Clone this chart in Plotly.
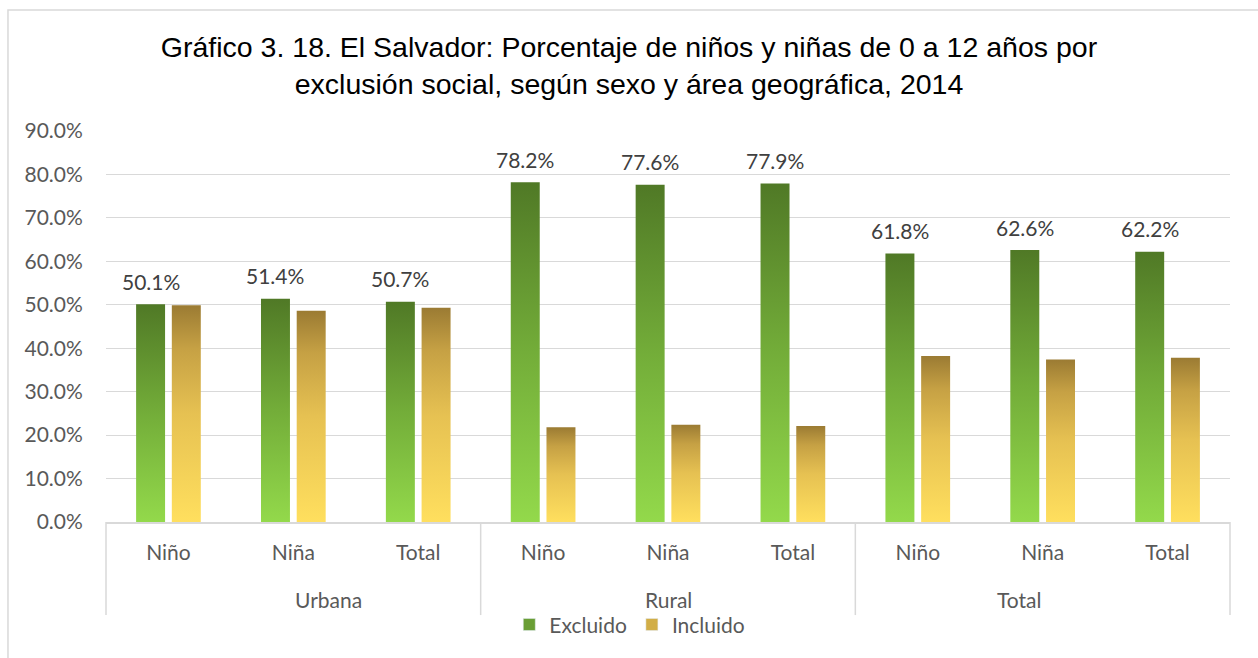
import plotly.graph_objects as go

# Chart data
areas = ["Urbana", "Rural", "Total"]
sexes = ["Niño", "Niña", "Total"]
excluido = [50.1, 51.4, 50.7, 78.2, 77.6, 77.9, 61.8, 62.6, 62.2]
incluido = [49.9, 48.6, 49.3, 21.8, 22.4, 22.1, 38.2, 37.4, 37.8]
y_ticks = [0, 10, 20, 30, 40, 50, 60, 70, 80, 90]

title_text = ("Gráfico 3. 18. El Salvador: Porcentaje de niños y niñas de 0 a 12 años por"
              "<br>exclusión social, según sexo y área geográfica, 2014")

# Styling
green_scale = [[0, "#93D94B"], [0.5, "#73AD39"], [1, "#507926"]]
gold_scale = [[0, "#FFDF5E"], [0.5, "#E6C152"], [0.8, "#C6A144"], [1, "#9B7B33"]]
green_legend = "#6A9E35"
gold_legend = "#D2AE47"
tick_font = dict(family="Lato", size=21, color="#595959")
grid_color = "#D9D9D9"

bar_w = 0.232
offset = 0.143

categories = [f"{s}" for _ in areas for s in sexes]
n = len(categories)

fig = go.Figure()


def add_bars(values, shift, scale):
    # each bar is a filled rectangle with a vertical gradient from its base to its top
    for i, v in enumerate(values):
        x0 = i + shift - bar_w / 2
        x1 = i + shift + bar_w / 2
        fig.add_trace(go.Scatter(
            x=[x0, x1, x1, x0, x0],
            y=[0, 0, v, v, 0],
            mode="lines",
            line=dict(width=0),
            fill="toself",
            fillgradient=dict(type="vertical", colorscale=scale),
            showlegend=False,
            hoverinfo="skip",
        ))


add_bars(excluido, -offset, green_scale)
add_bars(incluido, offset, gold_scale)

# legend entries
fig.add_trace(go.Bar(x=[None], y=[None], name="Excluido", marker_color=green_legend))
fig.add_trace(go.Bar(x=[None], y=[None], name="Incluido", marker_color=gold_legend))

# value labels on the Excluido bars
for i, v in enumerate(excluido):
    fig.add_annotation(x=i - offset, y=v, text=f"{v:.1f}%", showarrow=False,
                       xref="x", yref="y", yanchor="middle", yshift=23,
                       font=dict(family="Lato", size=21, color="#404040"))

# group labels under the category axis
for g, name in enumerate(areas):
    fig.add_annotation(x=(g + 0.5) / len(areas), y=-0.198, xref="paper", yref="paper",
                       text=name, showarrow=False, yanchor="middle", font=tick_font)

# group dividers
for g in range(len(areas) + 1):
    fig.add_shape(type="line", xref="paper", yref="paper",
                  x0=g / len(areas), x1=g / len(areas), y0=0, y1=-0.238,
                  line=dict(color=grid_color, width=1.5))

# outer chart border
fig.add_shape(type="rect", xref="paper", yref="paper",
              x0=-0.0872, x1=1.05, y0=1.3095, y1=-0.4,
              line=dict(color=grid_color, width=1.5), layer="below")

fig.update_layout(
    width=1258, height=658,
    margin=dict(l=106, r=28, t=131, b=136),
    paper_bgcolor="white", plot_bgcolor="white",
    title=dict(text=title_text, x=0.5, xref="container", xanchor="center",
               y=1 - 57 / 658, yref="container", yanchor="middle",
               font=dict(family="Liberation Sans, Arial", size=28.5, color="#000000")),
    showlegend=True,
    legend=dict(orientation="h", x=0.466, xanchor="center", y=-0.263, yanchor="middle",
                font=tick_font, traceorder="normal", itemwidth=30,
                bgcolor="rgba(0,0,0,0)"),
    xaxis=dict(range=[-0.5, n - 0.5], tickvals=list(range(n)), ticktext=categories,
               tickfont=tick_font, showgrid=False, zeroline=False,
               showline=True, linecolor=grid_color, linewidth=1.5,
               ticks="outside", ticklen=11, tickcolor="rgba(0,0,0,0)", fixedrange=True),
    yaxis=dict(range=[0, 90], tickvals=y_ticks,
               ticktext=[f"{t:.1f}%" for t in y_ticks],
               tickfont=tick_font, showgrid=True, gridcolor=grid_color, gridwidth=1.3,
               zeroline=False, showline=False,
               ticks="outside", ticklen=18, tickcolor="rgba(0,0,0,0)", fixedrange=True),
)

fig.write_html("out.html")
